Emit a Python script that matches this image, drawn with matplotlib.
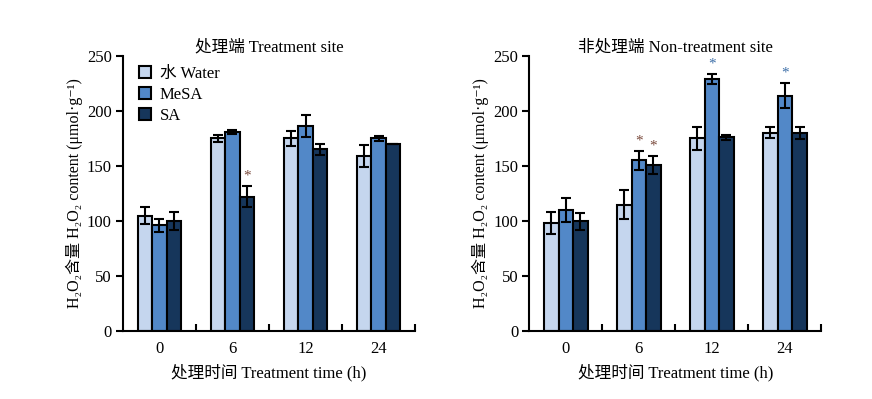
import matplotlib
matplotlib.use("Agg")
import matplotlib.pyplot as plt
import numpy as np
from matplotlib.patches import Patch

plt.rcParams['font.family'] = ['Liberation Serif', 'Noto Sans CJK SC', 'DejaVu Sans']

times = ['0', '6', '12', '24']
series = ['水 Water', 'MeSA', 'SA']
colors = ['#C5D6EE', '#5288C8', '#16365B']

# Treatment site
left_vals = [[105, 175, 175, 159],
             [96, 181, 186, 175],
             [100, 122, 165, 170]]
left_err = [[8, 3.5, 6.5, 10],
            [5.5, 2, 10, 2.5],
            [8.5, 9.5, 5, 0]]
left_stars = [(2, 1, 'brown')]

# Non-treatment site
right_vals = [[98, 115, 175, 180],
              [110, 155, 229, 214],
              [100, 151, 176, 180]]
right_err = [[9.8, 13.5, 10.5, 5],
             [10.5, 9, 4.5, 11],
             [7.7, 8, 2.5, 5.5]]
right_stars = [(1, 1, 'brown'), (2, 1, 'brown'), (1, 2, 'blue'), (1, 3, 'blue')]

star_colors = {'brown': '#7A4A3C', 'blue': '#3D6FA8'}

fig = plt.figure(figsize=(8.72, 3.99), dpi=100)
ax1 = fig.add_axes([0.141, 0.170, 0.335, 0.690])
ax2 = fig.add_axes([0.607, 0.170, 0.335, 0.690])

ylabel = 'H\u2082O\u2082含量 H\u2082O\u2082 content (μmol·g\u207b\u00b9)'
width = 0.2
x = np.arange(len(times))

def draw(ax, vals, errs, stars, title):
    for i in range(3):
        pos = x + (i - 1) * width
        ax.bar(pos, vals[i], width, color=colors[i], edgecolor='black',
               linewidth=1.5, zorder=2)
        ax.errorbar(pos, vals[i], yerr=errs[i], fmt='none', ecolor='black',
                    elinewidth=1.5, capsize=3.5, capthick=1.5, zorder=3)
    for (si, gi, c) in stars:
        xp = x[gi] + (si - 1) * width
        yp = vals[si][gi] + errs[si][gi]
        ax.annotate('*', (xp, yp), xytext=(0, 2.5), textcoords='offset points',
                    ha='center', va='bottom', fontsize=11, color=star_colors[c])
    ax.set_xlim(-0.5, 3.5)
    ax.set_ylim(0, 250)
    ax.set_yticks([0, 50, 100, 150, 200, 250])
    ax.set_xticks(x)
    ax.set_xticklabels(times)
    ax.set_xticks([0.5, 1.5, 2.5, 3.5], minor=True)
    ax.tick_params(axis='x', which='major', length=0, labelsize=12, pad=7)
    ax.tick_params(axis='x', which='minor', direction='in', length=5, width=1.5)
    ax.tick_params(axis='y', which='major', direction='out', length=5, width=1.5,
                   labelsize=12, pad=3)
    for s in ['top', 'right']:
        ax.spines[s].set_visible(False)
    for s in ['left', 'bottom']:
        ax.spines[s].set_linewidth(1.5)
    ax.set_title(title, fontsize=12, pad=3)
    ax.set_xlabel('处理时间 Treatment time (h)', fontsize=12, labelpad=5)
    ax.set_ylabel(ylabel, fontsize=11.5, labelpad=3)

draw(ax1, left_vals, left_err, left_stars, '处理端 Treatment site')
draw(ax2, right_vals, right_err, right_stars, '非处理端 Non-treatment site')

handles = [Patch(facecolor=colors[i], edgecolor='black', linewidth=1.5) for i in range(3)]
ax1.legend(handles, series, loc='upper left', bbox_to_anchor=(0.02, 1.0),
           frameon=False, fontsize=12, handlelength=0.75, handleheight=0.75,
           handletextpad=0.5, labelspacing=0.3, borderaxespad=0.2)

fig.savefig('out.png', dpi=100)
